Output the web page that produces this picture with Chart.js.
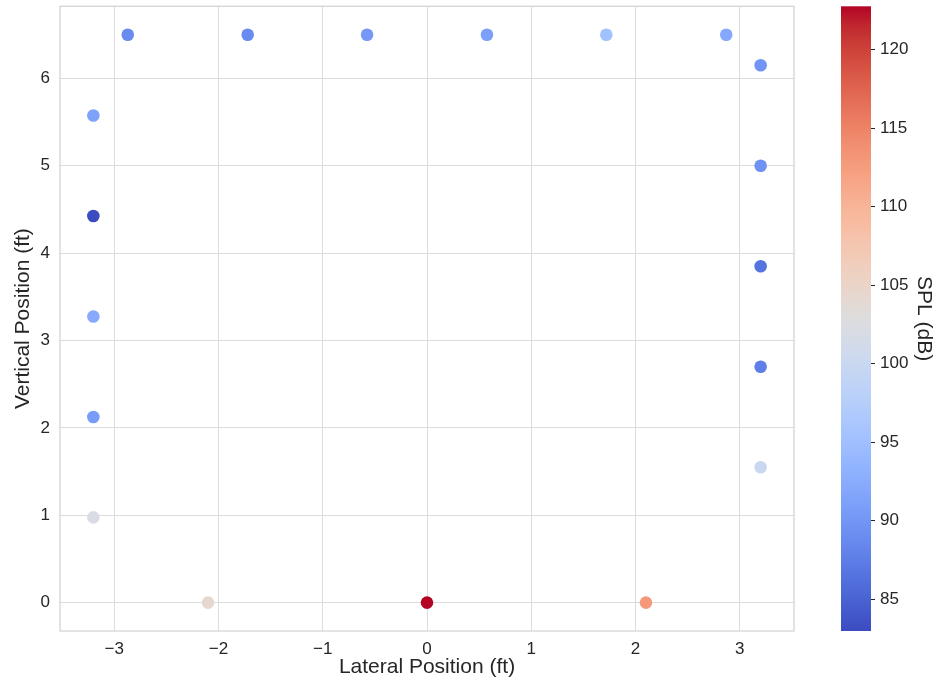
<!DOCTYPE html>
<html>
<head>
<meta charset="utf-8">
<script src="https://cdn.jsdelivr.net/npm/chart.js@4.4.1/dist/chart.umd.min.js"></script>
<style>
  body { margin: 0; background: #fff; }
  #wrap { width: 937px; height: 684px; }
</style>
</head>
<body>
<div id="wrap"><canvas id="splChart"></canvas></div>
<script>
// measurement positions (ft) and sound pressure level (dB)
const lateral = [-2.87, -1.72, -0.575, 0.575, 1.72, 2.87,
                 -3.2, -3.2, -3.2, -3.2, -3.2,
                 3.2, 3.2, 3.2, 3.2, 3.2,
                 -2.1, 0, 2.1];
const vertical = [6.5, 6.5, 6.5, 6.5, 6.5, 6.5,
                  5.575, 4.425, 3.275, 2.125, 0.975,
                  6.15, 5.0, 3.85, 2.7, 1.55,
                  0, 0, 0];
const spl = [88.8, 88.8, 90.2, 91.0, 95.3, 92.0,
             91.2, 82.96, 92.2, 90.6, 102.2,
             89.8, 89.5, 86.6, 87.6, 100.0,
             104.3, 122.74, 113.0];
const splTicks = [85, 90, 95, 100, 105, 110, 115, 120];

const splMin = Math.min(...spl);
const splMax = Math.max(...spl);

// matplotlib "coolwarm"
const coolwarm = [
  [59,76,192],[68,90,204],[77,104,215],[87,117,225],[98,130,234],[108,142,241],
  [119,154,247],[130,165,251],[141,176,254],[152,185,255],[163,194,255],[174,201,253],
  [184,208,249],[194,213,244],[204,217,238],[213,219,230],[221,221,221],[229,216,209],
  [236,211,197],[241,204,185],[245,196,173],[247,187,160],[247,177,148],[247,166,135],
  [244,154,123],[241,141,111],[236,127,99],[229,112,88],[222,96,77],[213,80,66],
  [203,62,56],[192,40,47],[180,4,38]
];
function cmap(t) {
  t = Math.max(0, Math.min(1, t));
  const p = t * (coolwarm.length - 1);
  const i = Math.min(Math.floor(p), coolwarm.length - 2);
  const f = p - i;
  const a = coolwarm[i], b = coolwarm[i + 1];
  const c = a.map((v, k) => Math.round(v + (b[k] - v) * f));
  return `rgb(${c[0]},${c[1]},${c[2]})`;
}
const pointColors = spl.map(v => cmap((v - splMin) / (splMax - splMin)));

Chart.defaults.font.family = "'Liberation Sans', Arial, sans-serif";
Chart.defaults.color = '#262626';

const textColor = '#262626';
const gridColor = '#dcdcdc';
const minus = v => String(v).replace('-', '\u2212');
const noPad = s => { s.paddingTop = 0; s.paddingBottom = 0; s.paddingLeft = 0; s.paddingRight = 0; };

const colorbarPlugin = {
  id: 'colorbar',
  afterDraw(chart) {
    const { ctx, chartArea } = chart;
    const cb = chart.scales.cb;
    // plot frame
    ctx.save();
    ctx.strokeStyle = '#d2d2d2';
    ctx.lineWidth = 1.25;
    ctx.strokeRect(chartArea.left, chartArea.top, chartArea.right - chartArea.left, chartArea.bottom - chartArea.top);
    // colour bar
    const x0 = chartArea.right + 47, w = 30;
    const yTop = cb.getPixelForValue(cb.max), yBot = cb.getPixelForValue(cb.min);
    const grad = ctx.createLinearGradient(0, yBot, 0, yTop);
    coolwarm.forEach((c, i) => grad.addColorStop(i / (coolwarm.length - 1), `rgb(${c[0]},${c[1]},${c[2]})`));
    ctx.fillStyle = grad;
    ctx.fillRect(x0, yTop, w, yBot - yTop);
    ctx.strokeStyle = textColor;
    ctx.lineWidth = 1;
    cb.ticks.forEach(t => {
      const y = Math.round(cb.getPixelForValue(t.value)) + 0.5;
      ctx.beginPath();
      ctx.moveTo(x0 + w, y);
      ctx.lineTo(x0 + w + 4, y);
      ctx.stroke();
    });
    ctx.restore();
  }
};

new Chart(document.getElementById('splChart'), {
  type: 'scatter',
  data: {
    datasets: [{
      label: 'SPL (dB)',
      data: lateral.map((x, i) => ({ x: x, y: vertical[i] })),
      pointBackgroundColor: pointColors,
      pointBorderWidth: 0,
      pointRadius: 6.3,
      pointHoverRadius: 6.3
    }]
  },
  options: {
    responsive: true,
    maintainAspectRatio: false,
    animation: false,
    layout: { padding: { top: 6, left: 0, right: 0, bottom: 0 } },
    plugins: { legend: { display: false }, tooltip: { enabled: false } },
    scales: {
      x: {
        type: 'linear',
        min: -3.52, max: 3.52,
        grid: { color: gridColor, drawTicks: false },
        border: { display: false },
        ticks: { stepSize: 1, includeBounds: false, padding: 8, color: textColor,
                 font: { size: 17 }, callback: v => minus(v) },
        title: { display: true, text: 'Lateral Position (ft)', color: textColor,
                 font: { size: 21 }, padding: { top: 0, bottom: 4 } },
        afterFit: s => { s.height = 53; noPad(s); }
      },
      y: {
        type: 'linear',
        min: -0.325, max: 6.825,
        grid: { color: gridColor, drawTicks: false },
        border: { display: false },
        ticks: { stepSize: 1, includeBounds: false, padding: 10, color: textColor,
                 font: { size: 17 }, callback: v => minus(v) },
        title: { display: true, text: 'Vertical Position (ft)', color: textColor,
                 font: { size: 21 }, padding: { top: 11, bottom: 0 } },
        afterFit: s => { s.width = 60; noPad(s); }
      },
      cb: {
        type: 'linear',
        axis: 'y',
        position: 'right',
        min: splMin, max: splMax,
        grid: { drawOnChartArea: false, drawTicks: false },
        border: { display: false },
        ticks: { stepSize: 5, includeBounds: false, padding: 86, color: textColor,
                 font: { size: 17 },
                 callback: v => splTicks.includes(v) ? String(v) : '' },
        title: { display: true, text: 'SPL (dB)', color: textColor,
                 font: { size: 21 }, padding: { top: 1, bottom: 0 } },
        afterFit: s => { s.width = 143; noPad(s); }
      }
    }
  },
  plugins: [colorbarPlugin]
});
</script>
</body>
</html>
